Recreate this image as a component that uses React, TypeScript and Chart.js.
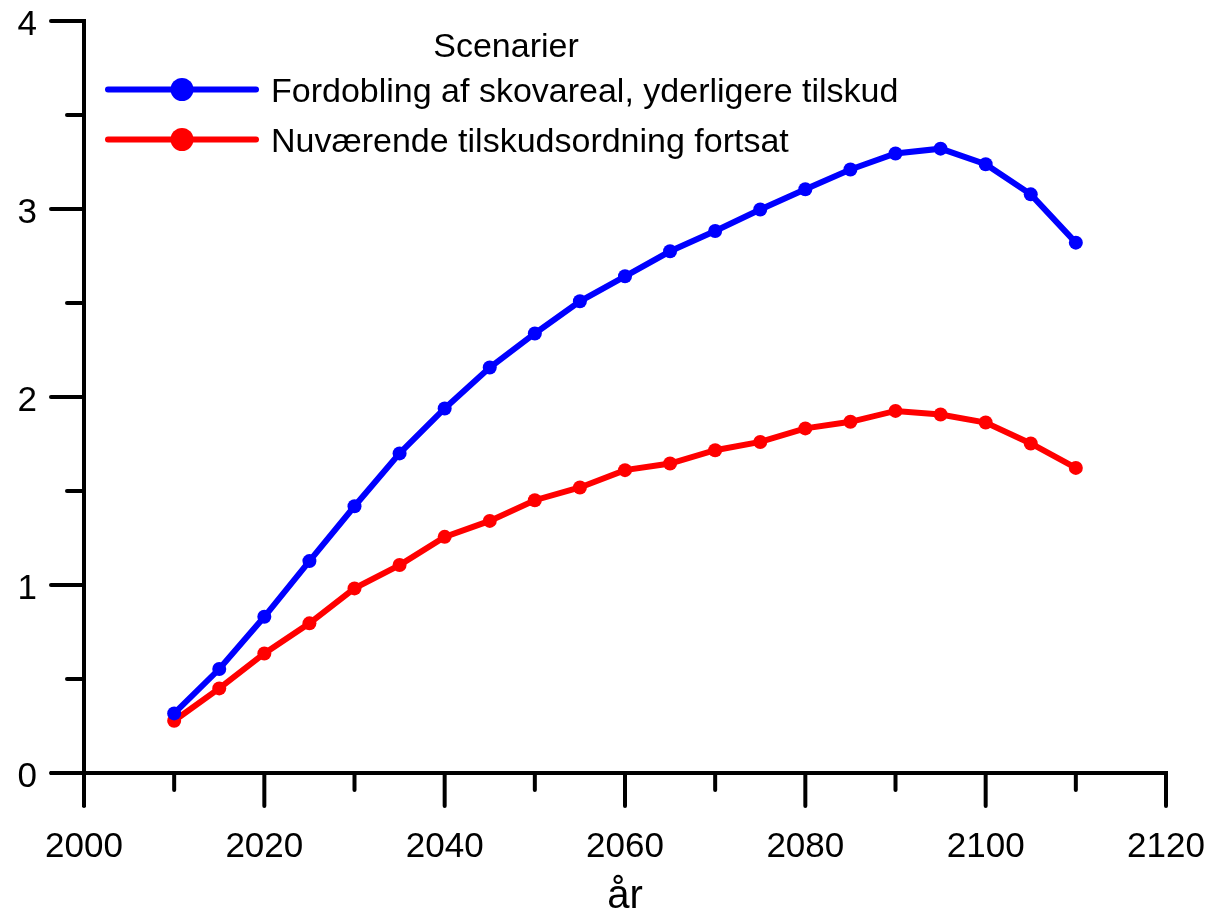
import React, { useEffect, useRef } from "react";
import { Chart, registerables } from "chart.js";

Chart.register(...registerables);

const years = [2010, 2015, 2020, 2025, 2030, 2035, 2040, 2045, 2050, 2055, 2060, 2065, 2070, 2075, 2080, 2085, 2090, 2095, 2100, 2105, 2110];
const fordobling = [0.317, 0.553, 0.831, 1.127, 1.419, 1.70, 1.939, 2.157, 2.338, 2.509, 2.642, 2.775, 2.883, 2.997, 3.105, 3.21, 3.295, 3.321, 3.238, 3.078, 2.821];
const nuvaerende = [0.278, 0.45, 0.636, 0.796, 0.982, 1.106, 1.256, 1.341, 1.451, 1.519, 1.611, 1.646, 1.717, 1.761, 1.833, 1.868, 1.926, 1.907, 1.864, 1.753, 1.623];
const seriesLabels = ["Fordobling af skovareal, yderligere tilskud", "Nuværende tilskudsordning fortsat"];
const seriesColors = ["#0000ff", "#ff0000"];
const legendTitle = "Scenarier";
const xTitle = "år";
const xMin = 2000, xMax = 2120, xStep = 10, xLabelEvery = 20;
const yMin = 0, yMax = 4, yStep = 0.5;

const FONT = "'Liberation Sans', Arial, sans-serif";

const axesPlugin = {
  id: "customAxes",
  beforeDatasetsDraw(chart: any) {
    const { ctx, chartArea } = chart;
    const xs = chart.scales.x;
    const ys = chart.scales.y;
    const left = chartArea.left;
    const bottom = chartArea.bottom;
    const major = 33;
    const minor = 17;
    ctx.save();
    ctx.strokeStyle = "#000";
    ctx.lineWidth = 4;
    ctx.lineCap = "butt";
    // y axis line
    ctx.beginPath();
    ctx.moveTo(left, ys.getPixelForValue(yMax) - 2);
    ctx.lineTo(left, bottom + major + 1);
    ctx.stroke();
    // x axis line
    ctx.beginPath();
    ctx.moveTo(left - major - 1, bottom);
    ctx.lineTo(xs.getPixelForValue(xMax) + 2, bottom);
    ctx.stroke();
    ctx.lineCap = "round";
    ctx.fillStyle = "#000";
    ctx.font = `35px ${FONT}`;
    ys.ticks.forEach((t: any) => {
      const py = ys.getPixelForValue(t.value);
      const isMajor = Number.isInteger(t.value);
      const len = isMajor ? major : minor;
      ctx.beginPath();
      ctx.moveTo(left - len, py);
      ctx.lineTo(left, py);
      ctx.stroke();
      if (isMajor) {
        ctx.textAlign = "right";
        ctx.textBaseline = "alphabetic";
        ctx.fillText(String(t.value), left - 47, py + 13.5);
      }
    });
    xs.ticks.forEach((t: any) => {
      const px = xs.getPixelForValue(t.value);
      const isMajor = t.value % xLabelEvery === 0;
      const len = isMajor ? major : minor;
      ctx.beginPath();
      ctx.moveTo(px, bottom);
      ctx.lineTo(px, bottom + len);
      ctx.stroke();
      if (isMajor) {
        ctx.textAlign = "center";
        ctx.textBaseline = "alphabetic";
        ctx.fillText(String(t.value), px, bottom + 84);
      }
    });
    ctx.font = `40px ${FONT}`;
    ctx.textAlign = "center";
    ctx.textBaseline = "alphabetic";
    ctx.fillText(xTitle, (xs.left + xs.right) / 2, bottom + 135);
    ctx.restore();
  },
};

const legendPlugin = {
  id: "customLegend",
  afterDatasetsDraw(chart: any) {
    const { ctx } = chart;
    ctx.save();
    ctx.fillStyle = "#000";
    ctx.font = `34px ${FONT}`;
    ctx.textAlign = "center";
    ctx.textBaseline = "alphabetic";
    ctx.fillText(legendTitle, 506, 57);
    chart.data.datasets.forEach((ds: any, i: number) => {
      const y = 89.5 + i * 50;
      ctx.strokeStyle = ds.borderColor;
      ctx.lineWidth = 6;
      ctx.lineCap = "round";
      ctx.beginPath();
      ctx.moveTo(108, y);
      ctx.lineTo(256, y);
      ctx.stroke();
      ctx.fillStyle = ds.borderColor;
      ctx.beginPath();
      ctx.arc(182, y, 11.5, 0, Math.PI * 2);
      ctx.fill();
      ctx.fillStyle = "#000";
      ctx.textAlign = "left";
      ctx.textBaseline = "alphabetic";
      ctx.fillText(ds.label, 271, y + 12.5);
    });
    ctx.restore();
  },
};

export default function App() {
  const ref = useRef<HTMLCanvasElement>(null);
  useEffect(() => {
    if (!ref.current) return;
    const mk = (vals: number[]) => years.map((x, i) => ({ x, y: vals[i] }));
    const chart = new Chart(ref.current, {
      type: "line",
      data: {
        datasets: [
          {
            label: seriesLabels[0],
            data: mk(fordobling),
            borderColor: seriesColors[0],
            backgroundColor: seriesColors[0],
            borderWidth: 6,
            pointRadius: 7,
            pointBorderWidth: 0,
            pointHoverRadius: 7,
          },
          {
            label: seriesLabels[1],
            data: mk(nuvaerende),
            borderColor: seriesColors[1],
            backgroundColor: seriesColors[1],
            borderWidth: 6,
            pointRadius: 7,
            pointBorderWidth: 0,
            pointHoverRadius: 7,
          },
        ],
      },
      options: {
        animation: false,
        responsive: true,
        maintainAspectRatio: false,
        events: [],
        layout: { padding: { left: 84, right: 43, top: 21, bottom: 147 } },
        plugins: { legend: { display: false }, tooltip: { enabled: false } },
        scales: {
          x: {
            type: "linear",
            display: false,
            min: xMin,
            max: xMax,
            ticks: { stepSize: xStep, autoSkip: false },
          },
          y: {
            display: false,
            min: yMin,
            max: yMax,
            ticks: { stepSize: yStep },
          },
        },
      },
      plugins: [axesPlugin, legendPlugin],
    });
    return () => chart.destroy();
  }, []);
  return (
    <div style={{ position: "fixed", left: 0, top: 0, width: 1209, height: 920, background: "#fff" }}>
      <canvas ref={ref} />
    </div>
  );
}
